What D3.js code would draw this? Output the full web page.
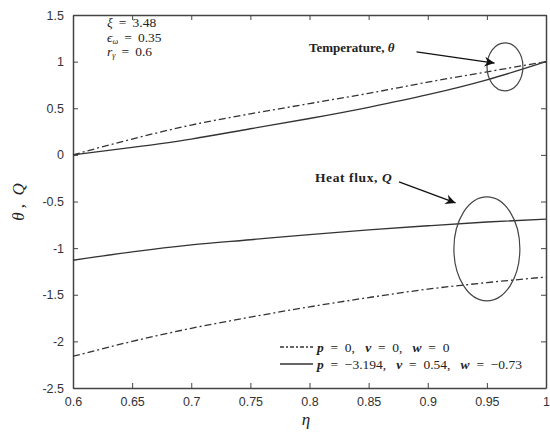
<!DOCTYPE html>
<html>
<head>
<meta charset="utf-8">
<script src="https://cdn.jsdelivr.net/npm/d3@7"></script>
<style>
  body { margin: 0; background: #fff; }
  .tick text { font-family: "Liberation Sans", Arial, sans-serif; font-size: 12.5px; fill: #333; }
  .ser { font-family: "Liberation Serif", "Times New Roman", serif; fill: #222; white-space: pre; }
</style>
</head>
<body>
<script>
// data
var eta = [0.6, 0.65, 0.7, 0.75, 0.8, 0.85, 0.9, 0.95, 1.0];
var thetaBase = [0, 0.17, 0.32, 0.44, 0.55, 0.66, 0.78, 0.89, 1.0];      // p=0, v=0, w=0
var thetaMod  = [0, 0.08, 0.17, 0.28, 0.39, 0.51, 0.645, 0.805, 1.0];    // p=-3.194 ...
var qBase = [-2.16, -2.0, -1.86, -1.74, -1.63, -1.53, -1.44, -1.37, -1.31];
var qMod  = [-1.13, -1.04, -0.965, -0.91, -0.855, -0.805, -0.76, -0.72, -0.69];
var xTicks = [0.6, 0.65, 0.7, 0.75, 0.8, 0.85, 0.9, 0.95, 1];
var yTicks = [-2.5, -2, -1.5, -1, -0.5, 0, 0.5, 1, 1.5];
var legendLabels = ["p  =  0,   v  =  0,   w  =  0", "p  =  \u22123.194,   v  =  0.54,   w  =  \u22120.73"];

var W = 550, H = 439;
var margin = {left: 73, right: 4, top: 15, bottom: 51};

var svg = d3.select("body").append("svg")
  .attr("width", W)
  .attr("height", H);

var x = d3.scaleLinear().domain([0.6, 1]).range([margin.left, W - margin.right]);
var y = d3.scaleLinear().domain([-2.5, 1.5]).range([H - margin.bottom, margin.top]);

var fmt = function(d) { return String(d); };

// axes, ticks inward on all four sides
svg.append("g")
  .attr("transform", "translate(0," + y(-2.5) + ")")
  .call(d3.axisBottom(x).tickValues(xTicks).tickFormat(fmt).tickSizeInner(-5).tickSizeOuter(0).tickPadding(9));
svg.append("g")
  .attr("transform", "translate(" + x(0.6) + ",0)")
  .call(d3.axisLeft(y).tickValues(yTicks).tickFormat(fmt).tickSizeInner(-5).tickSizeOuter(0).tickPadding(9));
svg.append("g")
  .attr("transform", "translate(0," + y(1.5) + ")")
  .call(d3.axisTop(x).tickValues(xTicks).tickFormat("").tickSizeInner(-5).tickSizeOuter(0));
svg.append("g")
  .attr("transform", "translate(" + x(1) + ",0)")
  .call(d3.axisRight(y).tickValues(yTicks).tickFormat("").tickSizeInner(-5).tickSizeOuter(0));

svg.selectAll(".domain").attr("stroke", "#444").attr("stroke-width", 1.5);
svg.selectAll(".tick line").attr("stroke", "#444");

// curves
var line = d3.line()
  .x(function(d, i) { return x(eta[i]); })
  .y(function(d) { return y(d); })
  .curve(d3.curveMonotoneX);

var dashDot = "7,3,2,3";
var series = [
  {v: thetaBase, dash: dashDot},
  {v: thetaMod, dash: null},
  {v: qBase, dash: dashDot},
  {v: qMod, dash: null}
];

svg.selectAll("path.curve")
  .data(series)
  .enter()
  .append("path")
  .attr("class", "curve")
  .attr("d", function(d) { return line(d.v); })
  .attr("fill", "none")
  .attr("stroke", "#333")
  .attr("stroke-width", 1.3)
  .attr("stroke-dasharray", function(d) { return d.dash; });

// ellipses
var ellipses = [
  {cx: 0.9653, cy: 0.944, rx: 0.0152, ry: 0.257},
  {cx: 0.950, cy: -1.008, rx: 0.0279, ry: 0.558}
];
svg.selectAll("ellipse")
  .data(ellipses)
  .enter()
  .append("ellipse")
  .attr("cx", function(d) { return x(d.cx); })
  .attr("cy", function(d) { return y(d.cy); })
  .attr("rx", function(d) { return x(0.6 + d.rx) - x(0.6); })
  .attr("ry", function(d) { return y(0) - y(d.ry); })
  .attr("fill", "none")
  .attr("stroke", "#444")
  .attr("stroke-width", 1.2);

// arrows
svg.append("defs").append("marker")
  .attr("id", "head")
  .attr("viewBox", "0 0 10 10")
  .attr("refX", 10).attr("refY", 5)
  .attr("markerWidth", 14).attr("markerHeight", 10)
  .attr("markerUnits", "userSpaceOnUse")
  .attr("orient", "auto")
  .append("path")
  .attr("d", "M0,0 L10,5 L0,10 L3,5 Z")
  .attr("fill", "#111");

var arrows = [
  {x1: 0.8905, y1: 1.105, x2: 0.9565, y2: 0.985},
  {x1: 0.8757, y1: -0.29, x2: 0.9235, y2: -0.515}
];
svg.selectAll("line.arrow")
  .data(arrows)
  .enter()
  .append("line")
  .attr("class", "arrow")
  .attr("x1", function(d) { return x(d.x1); })
  .attr("y1", function(d) { return y(d.y1); })
  .attr("x2", function(d) { return x(d.x2); })
  .attr("y2", function(d) { return y(d.y2); })
  .attr("stroke", "#111")
  .attr("stroke-width", 1.3)
  .attr("marker-end", "url(#head)");

// annotations
var t1 = svg.append("text").attr("class", "ser")
  .attr("x", 309).attr("y", 52)
  .attr("font-size", 13).attr("font-weight", "bold");
t1.append("tspan").text("Temperature, ");
t1.append("tspan").attr("font-style", "italic").text("\u03b8");

var t2 = svg.append("text").attr("class", "ser")
  .attr("x", 315).attr("y", 182)
  .attr("font-size", 13.5).attr("font-weight", "bold")
  .attr("letter-spacing", 0.6);
t2.append("tspan").text("Heat flux, ");
t2.append("tspan").attr("font-style", "italic").text("Q");

// parameter block
var params = [
  {sym: "\u03be", sub: "", val: " = 3.48"},
  {sym: "\u03f5", sub: "\u03c9", val: " = 0.35"},
  {sym: "r", sub: "\u03b3", val: " = 0.6"}
];
params.forEach(function(p, i) {
  var t = svg.append("text").attr("class", "ser")
    .attr("x", 107).attr("y", 27 + i * 14.5)
    .attr("font-size", 13.5);
  t.append("tspan").attr("font-style", "italic").text(p.sym);
  if (p.sub) t.append("tspan").attr("font-style", "italic").attr("font-size", 8).attr("dy", 2).text(p.sub);
  t.append("tspan").attr("dy", p.sub ? -2 : 0).text(p.val.replace("=", "\u2009=\u2009"));
});

// legend
var lg = svg.append("g").attr("transform", "translate(280,347)");
legendLabels.forEach(function(lab, i) {
  lg.append("line")
    .attr("x1", 0).attr("x2", 33)
    .attr("y1", i * 17).attr("y2", i * 17)
    .attr("stroke", "#333").attr("stroke-width", 1.3)
    .attr("stroke-dasharray", i === 0 ? "4,2,2,2" : null);
  var t = lg.append("text").attr("class", "ser")
    .attr("x", 37).attr("y", i * 17 + 4.5)
    .attr("font-size", 13.5);
  lab.split(/(p|v|w)(?=  =)/).forEach(function(s) {
    if (s === "") return;
    t.append("tspan")
      .attr("font-style", (s === "p" || s === "v" || s === "w") ? "italic" : null)
      .attr("font-weight", (s === "p" || s === "v" || s === "w") ? "bold" : null)
      .text(s);
  });
});

// axis titles
svg.append("text").attr("class", "ser")
  .attr("x", 306).attr("y", 425)
  .attr("text-anchor", "middle")
  .attr("font-size", 17).attr("font-style", "italic")
  .text("\u03b7");

svg.append("text").attr("class", "ser")
  .attr("transform", "translate(24,202) rotate(-90)")
  .attr("text-anchor", "middle")
  .attr("font-size", 17).attr("font-style", "italic")
  .text("\u03b8 ,  Q");
</script>
</body>
</html>
